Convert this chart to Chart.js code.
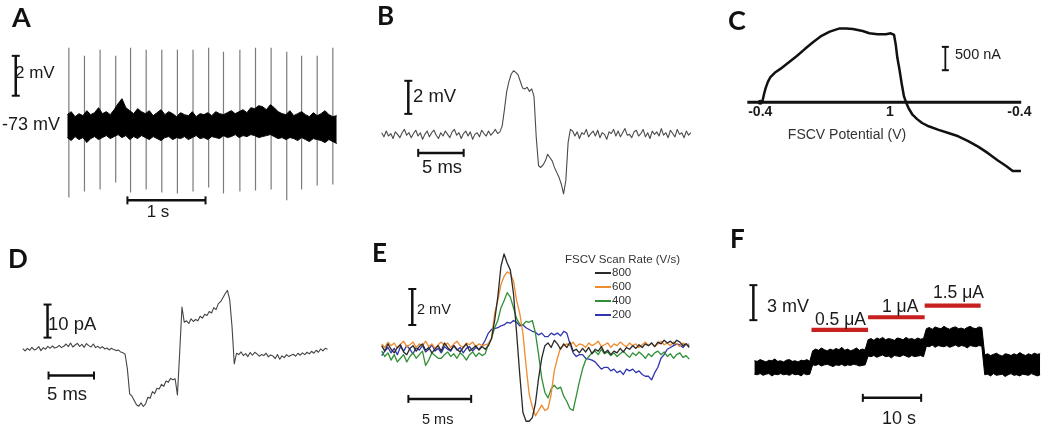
<!DOCTYPE html>
<html>
<head>
<meta charset="utf-8">
<script src="https://cdn.jsdelivr.net/npm/chart.js@4.4.0/dist/chart.umd.min.js"></script>
<style>
  body { margin: 0; background: #fff; }
  #fig { position: relative; width: 1050px; height: 436px; overflow: hidden;
         font-family: "Liberation Sans", Arial, sans-serif; color: #1a1a1a; }
  #fig canvas { position: absolute; left: 0; top: 0; }
  .t { position: absolute; white-space: nowrap; line-height: 1; }
  .p { position: absolute; font-family: Lato, sans-serif; font-weight: 700; line-height: 1; color: #111; }
  .sw { position: absolute; height: 1.8px; }
</style>
</head>
<body>
<div id="fig">
  <canvas id="cA" width="1050" height="436"></canvas>
  <canvas id="cB" width="1050" height="436"></canvas>
  <canvas id="cC" width="1050" height="436"></canvas>
  <canvas id="cD" width="1050" height="436"></canvas>
  <canvas id="cE" width="1050" height="436"></canvas>
  <canvas id="cF" width="1050" height="436"></canvas>
</div>
<script>
/* ===== data ===== */

// A: spontaneous firing, mV relative to -73 mV rest, 0.05 s steps
const aDt = 0.05;
const aUpper = [0.55,0.7,0.45,0.6,0.5,0.75,0.55,0.65,0.9,0.6,0.7,0.55,0.8,1.1,1.35,0.9,0.75,0.6,0.85,0.7,
  0.6,0.75,0.5,0.65,0.8,0.55,0.7,0.6,0.45,0.65,0.55,0.5,0.7,0.45,0.6,0.55,0.65,0.5,0.7,0.6,
  0.55,0.65,0.75,0.6,0.7,0.8,0.65,0.9,0.85,1.0,0.95,0.8,1.05,0.9,0.7,0.6,0.55,0.75,0.5,0.6,
  0.7,0.55,0.45,0.65,0.5,0.6,0.75,0.55,0.45,0.5];
const aLower = [-0.6,-0.75,-0.55,-0.7,-0.6,-0.85,-0.65,-0.55,-0.7,-0.6,-0.5,-0.65,-0.55,-0.45,-0.6,-0.5,-0.7,-0.55,-0.65,-0.5,
  -0.6,-0.7,-0.55,-0.65,-0.75,-0.6,-0.55,-0.7,-0.6,-0.65,-0.55,-0.7,-0.6,-0.5,-0.65,-0.6,-0.7,-0.55,-0.6,-0.65,
  -0.5,-0.6,-0.55,-0.45,-0.6,-0.5,-0.55,-0.45,-0.5,-0.6,-0.55,-0.5,-0.45,-0.55,-0.65,-0.6,-0.7,-0.6,-0.65,-0.75,
  -0.6,-0.7,-0.8,-0.65,-0.7,-0.75,-0.85,-0.7,-0.8,-0.9];
const aSpikeTimes = [0.02,0.22,0.42,0.62,0.81,1.01,1.21,1.41,1.61,1.81,2.00,2.21,2.41,2.61,2.81,3.00,3.20,3.40];
const aSpikeTop = [3.9,3.5,3.8,3.5,3.9,3.8,3.8,3.8,3.8,3.9,3.7,3.8,3.9,3.9,3.7,3.5,3.5,3.9];
const aSpikeBottom = [-3.6,-3.3,-3.2,-2.85,-3.35,-3.2,-3.35,-3.4,-3.3,-3.1,-3.4,-3.3,-3.25,-3.2,-3.75,-3.2,-3.0,-2.95];

// B: single spike, mV, 0.25 ms steps
const bDt = 0.25;
const bMv = [0.1,-0.15,0.2,-0.1,0.05,-0.25,0.15,0.0,-0.2,0.1,
  0.3,-0.05,0.1,-0.2,0.05,0.25,-0.1,0.1,-0.3,0.0,
  0.2,-0.15,0.1,0.25,-0.05,-0.25,0.1,-0.1,0.2,0.0,
  -0.2,0.15,0.3,-0.05,0.1,-0.25,0.05,0.2,-0.1,0.15,
  -0.3,0.0,0.1,-0.15,0.25,0.05,-0.1,0.2,-0.05,0.1,
  0.3,0.05,0.15,
  0.5,1.5,2.6,3.2,3.65,3.85,3.75,3.6,3.2,2.8,
  2.75,2.85,2.6,2.75,2.3,-0.2,-1.9,-2.0,-1.85,-1.6,
  -1.2,-1.4,-1.6,-2.0,-2.3,-2.6,-3.0,-3.6,-2.8,-0.5,
  0.3,
  0.2,-0.1,0.15,-0.25,0.1,0.0,0.3,-0.15,0.05,0.2,
  -0.1,0.25,-0.2,0.1,0.0,-0.3,0.15,0.05,0.3,-0.1,
  0.2,-0.15,0.1,0.35,-0.05,0.0,-0.2,0.15,0.25,-0.1,
  0.05,0.3,-0.15,0.1,-0.25,0.2,0.0,0.15,-0.1,0.35,
  -0.05,0.1,-0.2,0.25,0.05,-0.15,0.3,0.0,0.1,-0.2,
  0.2,-0.05,0.1];

// C: FSCV current (nA) vs sweep position (V travelled from -0.4 V)
const cSweep = [0.021,0.039,0.057,0.082,0.11,0.164,0.217,0.306,0.395,0.484,0.573,0.662,0.751,0.858,0.929,1.0,1.107,1.179,1.268,1.357,
  1.41,1.446,1.464,1.481,1.506,1.528,1.553,1.578,1.606,1.642,1.695,1.749,1.82,1.927,2.033,2.14,2.247,2.354,2.461,2.568,2.657,2.728,2.817];
const cNa = [0,160,298,437,541,645,715,854,992,1145,1291,1423,1513,1582,1582,1568,1527,1478,1457,1457,
  1478,1443,1235,958,680,403,125,-14,-139,-257,-361,-444,-514,-590,-659,-729,-833,-951,-1090,-1249,-1367,-1471,-1471];
const cTickPos = [0, 1.4, 2.8];
const cTickLabels = ['-0.4', '1', '-0.4'];

// D: current, pA, 0.25 ms steps
const dDt = 0.25;
const dPa = [0.2,-0.5,0.3,-0.3,0.6,-0.2,0.1,0.8,-0.4,0.5,
  0.0,0.9,0.3,1.0,0.4,0.6,1.2,0.5,0.9,1.6,
  0.8,1.9,0.7,1.3,1.8,0.9,1.5,0.6,1.7,1.1,
  0.7,1.6,0.5,0.9,0.3,0.8,0.1,0.4,-0.2,0.3,
  -0.1,-0.4,-0.2,-0.8,
  -1.0,-1.5,-6,-13.5,-14.2,-15.5,-16.8,-17.2,-16.2,-17.3,
  -16.5,-14.5,-14.8,-12.8,-13.4,-11.8,-12.0,-10.6,-11.2,-9.6,
  -10.0,-8.8,-9.2,-8.9,-13.8,-1.0,12.8,8.2,8.6,7.8,
  9.2,8.4,9.0,8.6,10.0,9.4,10.6,10.2,11.4,11.0,
  12.6,12.0,13.8,14.4,15.6,16.8,17.8,15.0,7.0,-4.4,
  -1.2,-1.6,-0.8,-1.9,-1.3,-2.2,-1.0,-1.8,-0.9,-1.4,
  -2.1,-1.6,-1.9,-1.2,-2.3,-1.7,-2.0,-2.8,-1.6,-3.0,
  -2.0,-2.5,-1.6,-2.2,-1.8,-1.5,-2.1,-1.2,-1.8,-1.1,
  -1.6,-0.9,-1.4,-0.6,-1.2,-0.3,-0.9,0.1,-0.5,0.3,
  0.0];

// E: spikes at four FSCV scan rates, mV, 0.25 ms steps
const eDt = 0.25;
const eRates = ['800', '600', '400', '200'];
const eColors = ['#2a2a2a', '#ef8a2e', '#2f8f35', '#3036b0'];
const e800 = [0.2,-0.1,0.3,0.0,-0.2,0.1,0.25,-0.15,-0.3,0.05,0.2,-0.1,0.15,0.3,-0.05,0.1,-0.2,0.0,0.2,-0.1,
  0.35,0.1,-0.05,0.2,0.0,-0.15,0.1,0.3,-0.1,0.05,0.2,-0.05,0.15,0.0,
  0.2,0.6,1.6,2.9,4.6,5.3,4.8,4.4,3.1,0.9,-1.4,-3.5,-4.0,-4.0,-3.8,-3.0,-1.6,-0.5,0.2,0.35,
  0.1,0.5,0.3,0.0,0.3,0.1,0.4,-0.1,0.0,
  -0.2,0.05,-0.15,0.1,-0.25,0.0,-0.1,0.15,-0.2,-0.05,-0.3,-0.1,-0.2,0.05,-0.15,0.1,0.0,0.2,
  0.05,0.25,0.1,0.3,0.2,0.35,0.15,0.4,0.3,0.5,0.35,0.45,0.3,0.5,0.4,0.2,0.3,0.1];
const e600 = [0.3,0.1,0.4,0.2,0.35,0.05,0.3,0.45,0.15,0.25,0.4,0.1,0.3,0.2,0.45,0.15,0.3,0.05,0.25,0.4,
  0.2,0.35,0.1,0.3,0.45,0.2,0.1,0.35,0.25,0.4,0.15,0.3,0.2,0.25,
  0.3,0.6,2.0,2.7,3.6,4.05,4.3,4.2,3.8,2.7,2.0,0.9,-0.9,-2.5,-3.2,-3.7,-3.4,-3.1,-3.4,-3.3,
  -2.5,-1.2,-0.5,0.1,0.2,
  0.3,0.2,0.4,0.15,0.3,0.25,0.1,0.35,0.2,0.3,0.45,0.15,0.25,0.35,0.1,0.3,0.2,0.4,0.25,0.15,
  0.35,0.2,0.3,0.1,0.25,0.4,0.2,0.35,0.15,0.3,0.45,0.25,0.35,0.2,0.4,0.3,0.15,0.35,0.25,0.3];
const e400 = [-0.1,-0.4,-0.2,-0.6,-0.3,-0.7,-0.5,-0.3,-0.7,-0.4,-0.2,-0.5,-0.3,-0.1,-0.9,-0.6,-0.2,-0.35,-0.5,-0.5,
  -0.3,-0.15,-0.4,-0.25,-0.5,-0.2,-0.35,-0.6,-0.3,-0.15,-0.4,-0.2,-0.35,-0.25,
  0.3,0.6,1.2,1.6,2.3,2.7,3.15,2.9,2.3,1.7,1.4,1.35,1.55,1.5,1.6,0.9,-0.3,-1.6,-2.4,-2.7,
  -2.2,-2.0,-2.2,-2.1,-2.6,-2.9,-3.3,-3.4,-2.6,-1.8,-1.1,-0.6,-0.4,
  -0.2,-0.1,-0.3,0.0,-0.25,-0.15,-0.35,-0.2,-0.4,-0.25,-0.1,-0.3,-0.45,-0.2,-0.35,-0.15,
  -0.3,-0.5,-0.25,-0.4,-0.2,-0.1,-0.3,-0.15,-0.4,-0.25,-0.5,-0.3,-0.2,-0.45,-0.35,-0.55];
const e200 = [-0.35,-0.1,0.1,-0.2,0.05,-0.3,0.15,-0.1,0.2,0.0,-0.25,0.1,-0.05,0.2,-0.15,0.0,0.25,-0.1,0.05,-0.2,
  0.15,0.0,-0.1,0.2,-0.05,0.1,-0.2,0.05,0.15,-0.1,0.1,0.0,
  0.2,0.5,0.9,1.1,1.15,1.2,1.3,1.35,1.5,1.45,1.6,1.5,1.3,1.35,1.2,1.1,1.0,0.95,0.8,0.9,
  0.7,0.7,0.9,0.8,0.9,0.75,1.0,0.9,0.3,-0.2,-0.4,-0.3,-0.3,-0.5,-0.55,-0.6,-0.7,-0.9,-1.1,-1.0,
  -1.0,-1.2,-1.1,-1.3,-1.2,-1.4,-1.1,-1.2,-1.1,-1.3,-1.2,-1.4,-1.5,-1.5,-1.7,-1.3,-1.0,-0.5,-0.3,0.0,
  0.1,0.2,0.3,0.25,0.1,0.3,0.2];

// F: membrane potential steps during current injection, mV, 0.5 s steps
const fDt = 0.5;
const fUpper = [0.6,0.55,0.7,0.6,0.5,0.65,0.6,0.75,0.55,0.6,0.5,0.65,0.7,0.55,0.6,0.5,0.65,0.6,0.7,0.55,
  1.45,1.6,1.5,1.7,1.55,1.45,1.6,1.5,1.65,1.55,1.75,1.5,1.6,1.45,1.55,1.7,1.5,1.6,1.55,
  2.4,2.5,2.35,2.55,2.45,2.6,2.4,2.5,2.45,2.35,2.55,2.5,2.4,2.6,2.45,2.5,2.4,2.55,2.45,2.5,
  3.35,3.45,3.3,3.5,3.4,3.35,3.55,3.4,3.3,3.45,3.5,3.35,3.4,3.3,3.45,3.55,3.4,3.35,3.5,3.45,
  1.1,1.2,1.05,1.15,1.25,1.1,1.0,1.2,1.15,1.05,1.2,1.1,1.3,1.15,1.05,1.2,1.1,1.25,1.15,1.2];
const fLower = [-0.55,-0.6,-0.5,-0.65,-0.55,-0.5,-0.7,-0.55,-0.6,-0.5,-0.6,-0.55,-0.65,-0.5,-0.6,-0.55,-0.7,-0.5,-0.6,-0.55,
  0.25,0.2,0.3,0.15,0.25,0.3,0.2,0.1,0.25,0.2,0.3,0.15,0.25,0.2,0.3,0.25,0.15,0.2,0.25,
  1.0,0.95,1.05,0.9,1.0,1.1,0.95,1.0,0.85,1.05,1.0,0.95,1.1,1.0,0.9,1.05,0.95,1.0,1.05,0.95,
  1.85,1.8,1.95,1.75,1.9,1.85,1.8,1.9,1.75,1.85,1.95,1.8,1.9,1.85,1.7,1.9,1.85,1.8,1.9,1.85,
  -0.6,-0.55,-0.7,-0.5,-0.65,-0.6,-0.55,-0.75,-0.6,-0.5,-0.65,-0.6,-0.7,-0.55,-0.6,-0.65,-0.5,-0.6,-0.7,-0.6];
const fPulseStart = [9.8, 19.5, 29.2];
const fPulseEnd = [19.5, 29.2, 38.8];
const fPulseLevel = [3.25, 4.33, 5.33];
const fPulseLabels = ['0.5 μA', '1 μA', '1.5 μA'];

/* ===== helpers ===== */
const W = 1050, H = 436;
const fig = document.getElementById('fig');

function sampled(vals, dt) {
  return vals.map((v, i) => ({ x: i * dt, y: v }));
}
function paired(xs, ys) {
  return ys.map((y, i) => ({ x: xs[i], y }));
}
function trace(data, color, width, extra) {
  return Object.assign({ data, borderColor: color, borderWidth: width, pointRadius: 0, fill: false }, extra || {});
}
// scale bars with end caps
function vBar(x, y1, y2, w, cap) {
  return { data: [{ x, y: y1 }, { x, y: y2 }], borderColor: '#111', borderWidth: w || 2.5,
    pointStyle: 'line', pointRadius: cap || 4, pointBorderColor: '#111', pointBorderWidth: 2, pointRotation: 0, fill: false };
}
function hBar(x1, x2, y, w, cap) {
  return { data: [{ x: x1, y }, { x: x2, y }], borderColor: '#111', borderWidth: w || 2.5,
    pointStyle: 'line', pointRadius: cap || 4, pointBorderColor: '#111', pointBorderWidth: 2, pointRotation: 90, fill: false };
}

// x0,y0 = pixel of data origin; kx,ky = pixels per unit
function panel(id, x0, y0, kx, ky, datasets) {
  return new Chart(document.getElementById(id), {
    type: 'line',
    data: { datasets },
    options: {
      responsive: false, animation: false, events: [],
      layout: { padding: 0 },
      plugins: { legend: { display: false }, tooltip: { enabled: false } },
      elements: { line: { tension: 0, borderJoinStyle: 'round' } },
      scales: {
        x: { type: 'linear', display: false, min: -x0 / kx, max: (W - x0) / kx },
        y: { type: 'linear', display: false, min: -(H - y0) / ky, max: y0 / ky }
      }
    }
  });
}

function lab(text, x, yc, size, opts) {
  opts = opts || {};
  const d = document.createElement('div');
  d.className = opts.letter ? 'p' : 't';
  d.textContent = text;
  d.style.fontSize = size + 'px';
  if (opts.right) d.style.right = (W - x) + 'px';
  else d.style.left = x + 'px';
  d.style.top = (yc - (opts.letter ? 0.53 : 0.49) * size) + 'px';
  if (opts.center) d.style.transform = 'translateX(-50%)';
  if (opts.bold) d.style.fontWeight = '700';
  if (opts.color) d.style.color = opts.color;
  fig.appendChild(d);
}

/* ===== A ===== */
const aSpikes = [];
aSpikeTimes.forEach((t, i) => {
  aSpikes.push({ x: t, y: aSpikeBottom[i] }, { x: t, y: aSpikeTop[i] }, { x: t, y: null });
});
panel('cA', 62, 123, 79, 20.5, [
  trace(sampled(aUpper, aDt), '#000', 1, { fill: '+1', backgroundColor: '#000' }),
  trace(sampled(aLower, aDt), '#000', 1),
  trace(aSpikes, '#7c7c7c', 1.2, { spanGaps: false }),
  vBar(-0.66, 1.5, 3.5),
  hBar(0.77, 1.77, -3.75)
]);
lab('A', 12, 17, 27, { letter: true });
lab('2 mV', 15, 72, 17);
lab('-73 mV', 60, 124, 18, { right: true });
lab('1 s', 158, 211, 17, { center: true });

/* ===== B ===== */
panel('cB', 380, 132, 9.2, 17, [
  trace(sampled(bMv, bDt), '#4a4a4a', 1.1),
  vBar(2.93, 1.24, 3.24),
  hBar(4.02, 9.02, -1.12)
]);
lab('B', 377, 16, 26, { letter: true });
lab('2 mV', 413, 96, 18.5);
lab('5 ms', 422, 167, 18.5);

/* ===== C ===== */
const chartC = panel('cC', 763, 99, 93.6, 0.048, [
  trace(paired(cSweep, cNa), '#111', 2.5),
  trace([{ x: -0.14, y: 0 }, { x: 2.82, y: 0 }], '#111', 3),
  trace([{ x: 0, y: 0 }], '#111', 0, { pointRadius: 2.5, pointBackgroundColor: '#111', pointBorderWidth: 0 }),
  vBar(2.0, 687, 1187, 1.8, 3.5)
]);
cTickPos.forEach((p, i) => {
  lab(cTickLabels[i], chartC.scales.x.getPixelForValue(p), 111, 14, { center: true, bold: true });
});
lab('C', 728, 20, 27, { letter: true });
lab('500 nA', 955, 54, 14.5);
lab('FSCV Potential (V)', 847, 134, 14, { center: true, color: '#333' });

/* ===== D ===== */
panel('cD', 17, 353, 9.2, 3.4, [
  trace(sampled(dPa, dDt), '#444', 1.1),
  vBar(2.72, 3.53, 13.53),
  hBar(2.83, 7.83, -7.94)
]);
lab('D', 8, 259, 26, { letter: true });
lab('10 pA', 48, 324, 18.5);
lab('5 ms', 47, 394, 18.5);

/* ===== E ===== */
const eSeries = [e800, e600, e400, e200];
panel('cE', 380, 353, 12.7, 18.5,
  eSeries.map((s, i) => trace(sampled(s, eDt), eColors[i], 1.3))
    .concat([vBar(2.44, 1.35, 3.35), hBar(2.13, 7.13, -2.76)])
);
lab('E', 372, 253, 26, { letter: true });
lab('2 mV', 417, 309, 14.5);
lab('5 ms', 422, 419, 14.5);
lab('FSCV Scan Rate (V/s)', 565, 260, 11.5, { color: '#333' });
eRates.forEach((r, i) => {
  const y = 273 + i * 14;
  const sw = document.createElement('div');
  sw.className = 'sw';
  sw.style.left = '595px'; sw.style.width = '16px';
  sw.style.top = (y - 0.9) + 'px';
  sw.style.background = eColors[i];
  fig.appendChild(sw);
  lab(r, 612, y, 11.5, { color: '#333' });
});

/* ===== F ===== */
const fPulses = [];
fPulseStart.forEach((s, i) => {
  fPulses.push({ x: s, y: fPulseLevel[i] }, { x: fPulseEnd[i], y: fPulseLevel[i] }, { x: fPulseEnd[i], y: null });
});
panel('cF', 757, 372, 5.9, 12, [
  trace(sampled(fUpper, fDt), '#000', 1, { fill: '+1', backgroundColor: '#000' }),
  trace(sampled(fLower, fDt), '#000', 1),
  trace(fPulses, '#c8201e', 4.2, { spanGaps: false, borderCapStyle: 'butt' }),
  vBar(-0.17, 4.08, 7.08),
  hBar(18.6, 28.6, -2.58)
]);
lab('F', 730, 239, 26, { letter: true });
lab('3 mV', 767, 306, 18);
const fLabelX = [815, 882, 933];
const fLabelY = [320, 307, 293];
fPulseLabels.forEach((t, i) => lab(t, fLabelX[i], fLabelY[i], 17.5));
lab('10 s', 882, 418, 18);
</script>
</body>
</html>
